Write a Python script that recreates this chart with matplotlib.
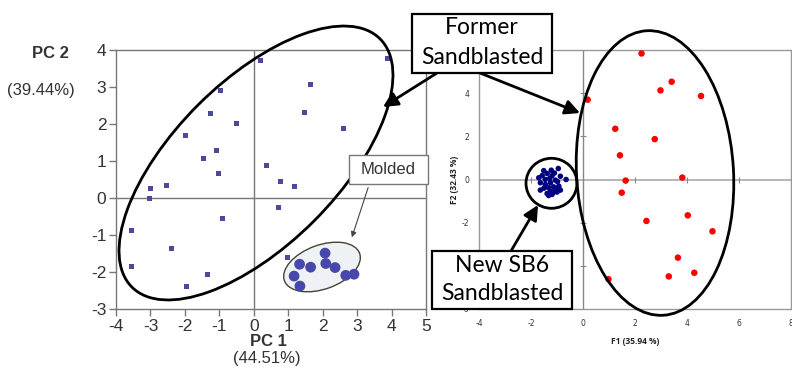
import matplotlib
matplotlib.use("Agg")
import matplotlib.pyplot as plt
from matplotlib.patches import Ellipse, Rectangle, FancyArrowPatch

plt.rcParams["axes.unicode_minus"] = False

W, H = 792, 371

# PCA scores, former sandblasted samples (left chart)
pc1_former = [0.19, 3.88, 1.65, -0.98, -1.26, 1.46, -0.51, 2.60, -1.97, -1.09,
              -1.45, -1.03, 0.38, 0.78, 1.18, -2.53, -3.01, -3.03, 0.72, -0.92,
              -3.55, -2.40, -3.55, -1.34, -1.94, 0.99]
pc2_former = [3.71, 3.78, 3.07, 2.90, 2.29, 2.32, 2.01, 1.88, 1.68, 1.29,
              1.08, 0.65, 0.89, 0.44, 0.30, 0.34, 0.25, -0.01, -0.26, -0.56,
              -0.87, -1.37, -1.84, -2.07, -2.40, -1.62]

# PCA scores, molded samples (left chart)
pc1_molded = [2.07, 1.33, 1.65, 2.09, 2.36, 2.67, 2.91, 1.17, 1.34]
pc2_molded = [-1.49, -1.79, -1.87, -1.77, -1.88, -2.09, -2.06, -2.11, -2.38]

# Factor scores, former sandblasted (right chart)
f1_former = [2.25, 3.41, 2.98, 4.54, 0.18, 1.24, 2.76, 1.42, 3.82, 1.64,
             1.49, 2.44, 4.03, 4.98, 3.65, 4.28, 3.30, 0.98]
f2_former = [5.84, 4.53, 4.13, 3.87, 3.70, 2.35, 1.87, 1.12, 0.09, -0.05,
             -0.61, -1.92, -1.66, -2.40, -3.62, -4.32, -4.49, -4.62]

# Factor scores, new SB6 sandblasted (right chart)
f1_new = [-0.95, -1.22, -1.51, -1.57, -1.38, -1.19, -0.87, -1.70, -0.65, -1.45,
          -1.06, -1.25, -1.64, -1.45, -0.93, -1.13, -1.32, -1.06, -0.87, -1.64,
          -1.25, -1.38, -1.19, -1.00, -1.32, -1.10, -1.28, -1.50, -0.98, -1.15]
f2_new = [0.51, 0.43, 0.41, 0.18, 0.28, 0.18, 0.15, 0.08, 0.00, 0.00,
          -0.03, -0.15, -0.15, -0.23, -0.31, -0.34, -0.38, -0.46, -0.49, -0.49,
          -0.54, -0.65, -0.69, -0.58, -0.74, 0.30, 0.05, -0.40, -0.10, -0.60]

pc1_ticks = [-4, -3, -2, -1, 0, 1, 2, 3, 4, 5]
pc2_ticks = [-3, -2, -1, 0, 1, 2, 3, 4]
f1_ticks = [-4, -2, 0, 2, 4, 6, 8]
f2_ticks = [-6, -4, -2, 0, 2, 4, 6]
# labels of ticks that sit behind the callout boxes are left blank
f2_labels = ["-6", "", "-2", "0", "2", "4", ""]

fig = plt.figure(figsize=(W / 100, H / 100), dpi=100)
fig.patch.set_facecolor("white")

# overlay in pixel space for callouts (created first so its transform is usable)
ov = fig.add_axes([0, 0, 1, 1], zorder=10)
ov.set_xlim(0, W)
ov.set_ylim(0, H)
ov.axis("off")
ov.patch.set_alpha(0)


def P(x, y):
    return (x, H - y)


# ---- left: PCA plot ----
ax1 = fig.add_axes([116 / W, 62 / H, 310 / W, 259 / H])
ax1.set_xlim(-4, 5)
ax1.set_ylim(-3, 4)
ax1.axhline(0, color="#777777", lw=1.0, zorder=1)
ax1.axvline(0, color="#777777", lw=1.0, zorder=1)
# shaded molded group sits under its markers
ax1.add_patch(Ellipse(P(322, 267), 80, 44, angle=20, facecolor="#eef2f4",
                      edgecolor="#444433", lw=1.0, zorder=2,
                      transform=ov.transData, clip_on=False))
ax1.scatter(pc1_former, pc2_former, marker="s", s=13, color="#4a4a96",
            edgecolors="none", zorder=3)
ax1.scatter(pc1_molded, pc2_molded, marker="o", s=60, color="#4848ac",
            edgecolors="none", zorder=4)
ax1.set_xticks(pc1_ticks)
ax1.set_yticks(pc2_ticks)
for sp in ax1.spines.values():
    sp.set_color("#777777")
    sp.set_linewidth(1.0)
ax1.tick_params(direction="out", length=5, width=1, color="#777777",
                labelsize=12.5, labelcolor="#333333", pad=2)
for lab in ax1.get_xticklabels() + ax1.get_yticklabels():
    lab.set_family("Liberation Sans")

# ---- right: factor map ----
ax2 = fig.add_axes([479 / W, 62 / H, 312 / W, 259 / H])
ax2.set_xlim(-4, 8)
ax2.set_ylim(-6, 6)
ax2.axhline(0, color="#aaaaaa", lw=1.2, zorder=1)
ax2.axvline(0, color="#888888", lw=1.0, zorder=1)
# tick marks sitting on the zero lines
ax2.plot([t for t in f1_ticks if t != 0], [0] * (len(f1_ticks) - 1), ls="none",
         marker="|", ms=5, mew=0.8, color="#888888", zorder=1)
ax2.plot([0] * (len(f2_ticks) - 1), [t for t in f2_ticks if t != 0], ls="none",
         marker="_", ms=5, mew=0.8, color="#888888", zorder=1)
ax2.scatter(f1_former, f2_former, s=22, color="#ff0000", edgecolors="none", zorder=3)
ax2.scatter(f1_new, f2_new, s=16, color="#000080", edgecolors="none", zorder=3)
ax2.set_xticks(f1_ticks)
ax2.set_yticks(f2_ticks)
ax2.set_yticklabels(f2_labels)
for sp in ax2.spines.values():
    sp.set_color("#999999")
    sp.set_linewidth(1.0)
ax2.tick_params(length=0, labelsize=5.5, labelcolor="#333333", pad=7)
ax2.set_xlabel("F1 (35.94 %)", fontsize=6, fontweight="bold", labelpad=7,
               family="Open Sans", color="#222222")
ax2.set_ylabel("F2 (32.43 %)", fontsize=6, fontweight="bold", labelpad=2,
               family="Open Sans", color="#222222")

# axis titles of the PCA plot
ov.text(*P(50, 53), "PC 2", fontsize=12, fontweight="bold", ha="center",
        va="center", color="#333333", family="Liberation Sans")
ov.text(*P(41, 90), "(39.44%)", fontsize=12, ha="center", va="center",
        color="#333333", family="Liberation Sans")
ov.text(*P(268, 342), "PC 1", fontsize=12, fontweight="bold", ha="center",
        va="center", color="#333333", family="Liberation Sans")
ov.text(*P(267, 359), "(44.51%)", fontsize=12, ha="center", va="center",
        color="#333333", family="Liberation Sans")

# group outlines
ov.add_patch(Ellipse(P(256, 163), 351, 164, angle=45, facecolor="none",
                     edgecolor="black", lw=2.0, zorder=2))
ov.add_patch(Ellipse(P(655, 173), 285, 157, angle=93.3, facecolor="none",
                     edgecolor="black", lw=2.0, zorder=2))
ov.add_patch(Ellipse(P(551.5, 183.3), 51, 50, facecolor="none",
                     edgecolor="black", lw=2.0, zorder=2))

# molded label
ov.add_patch(Rectangle(P(349, 184), 79, 29, facecolor="white",
                       edgecolor="#777777", lw=1.0, zorder=3))
ov.text(*P(388.5, 169.5), "Molded", fontsize=12, ha="center", va="center",
        color="#333333", family="Liberation Sans", zorder=4)
ov.add_patch(FancyArrowPatch(P(369, 185), P(351, 240), arrowstyle="-|>",
                             mutation_scale=8, lw=0.8, color="#444444", zorder=3))

# callout boxes
box_kw = dict(facecolor="white", edgecolor="black", lw=1.6, zorder=5)
ov.add_patch(Rectangle(P(412, 73), 140, 59, **box_kw))
ov.text(*P(482, 28), "Former", fontsize=16.5, ha="center", va="center",
        family="Lato", zorder=6)
ov.text(*P(482, 57), "Sandblasted", fontsize=16.5, ha="center", va="center",
        family="Lato", zorder=6)
ov.add_patch(Rectangle(P(432, 309), 140, 58, **box_kw))
ov.text(*P(502, 266), "New SB6", fontsize=16.5, ha="center", va="center",
        family="Lato", zorder=6)
ov.text(*P(502, 294), "Sandblasted", fontsize=16.5, ha="center", va="center",
        family="Lato", zorder=6)

arrow_kw = dict(arrowstyle="-|>", mutation_scale=22, lw=2.0, color="black",
                shrinkA=0, shrinkB=0, zorder=4)
ov.add_patch(FancyArrowPatch(P(437, 73), P(383, 107), **arrow_kw))
ov.add_patch(FancyArrowPatch(P(480, 73), P(580, 113), **arrow_kw))
ov.add_patch(FancyArrowPatch(P(511, 251), P(538, 205), **arrow_kw))

fig.savefig("out.png", dpi=100)
